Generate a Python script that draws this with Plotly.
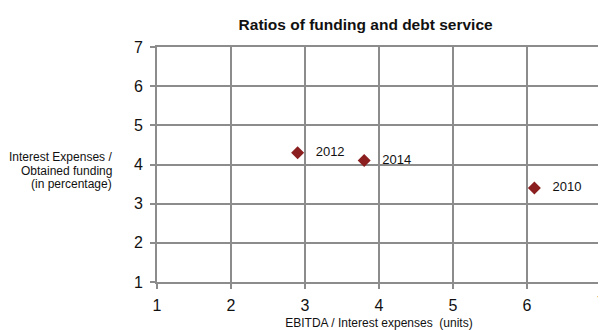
import plotly.graph_objects as go

years = ["2010", "2012", "2014"]
ebitda_ratio = [6.1, 2.9, 3.8]
interest_ratio = [3.4, 4.3, 4.1]
x_ticks = [1, 2, 3, 4, 5, 6, 7]
y_ticks = [1, 2, 3, 4, 5, 6, 7]
y_title_lines = ["Interest Expenses /", "Obtained funding", "(in percentage)"]

grid = "#8c8c8c"
fig = go.Figure()
fig.add_trace(go.Scatter(
    x=ebitda_ratio, y=interest_ratio, mode="markers+text",
    text=["   " + y for y in years], textposition="middle right",
    textfont=dict(family="Liberation Sans, Arial", size=13, color="#111"),
    marker=dict(symbol="diamond", size=10, color="#8b1f1f"),
    cliponaxis=False, showlegend=False,
))
fig.update_layout(
    width=598, height=322,
    margin=dict(l=149, r=5, t=39, b=48, autoexpand=False),
    paper_bgcolor="white", plot_bgcolor="white",
    title=dict(text="<b>Ratios of funding and debt service</b>", x=0.598, xanchor="center",
               y=0.950, yanchor="middle",
               font=dict(family="Liberation Sans, Arial", size=15.5, color="#111")),
    font=dict(family="Liberation Sans, Arial", color="#111"),
    xaxis=dict(range=[x_ticks[0], x_ticks[-1]], tickvals=x_ticks,
               ticktext=[str(v) if v != x_ticks[-1] else "" for v in x_ticks],
               showgrid=True, gridcolor=grid, gridwidth=2,
               showline=True, linecolor=grid, linewidth=2, mirror=True, automargin=False,
               ticks="outside", ticklen=5, tickcolor=grid, tickwidth=2,
               tickfont=dict(size=16), zeroline=False, ticklabelstandoff=3,
               title=dict(text="EBITDA / Interest expenses  (units)", font=dict(size=12), standoff=12)),
    yaxis=dict(range=[y_ticks[0], y_ticks[-1]], tickvals=y_ticks, showgrid=True, gridcolor=grid, gridwidth=2,
               showline=True, linecolor=grid, linewidth=2, mirror=True, automargin=False,
               ticks="outside", ticklen=5, tickcolor=grid, tickwidth=2,
               tickfont=dict(size=16), zeroline=False, ticklabelstandoff=4),
)
# last x tick label (at the right end of the axis, paper x = 1) drawn as an annotation
fig.add_annotation(text=str(x_ticks[-1]), x=1.0, xref="paper", y=-0.088, yref="paper",
                   xanchor="center", yanchor="middle", showarrow=False,
                   font=dict(size=16, color="#111"))
for line, yp in zip(y_title_lines, [0.534, 0.474, 0.417]):
    fig.add_annotation(text=line, xref="paper", yref="paper", x=-0.097, y=yp,
                       xanchor="right", yanchor="middle", align="right", showarrow=False,
                       font=dict(size=12, color="#111"))
fig.write_html("out.html")
